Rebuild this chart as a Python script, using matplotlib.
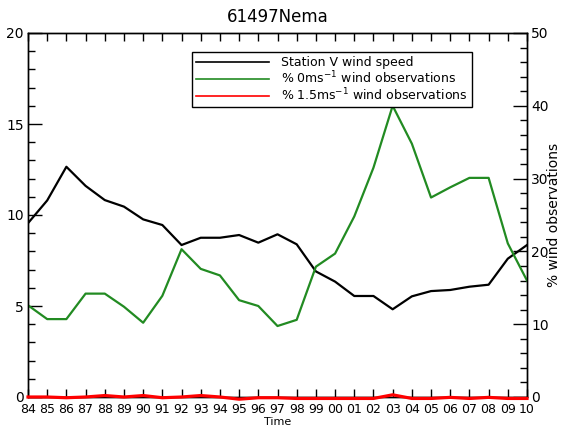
"""Station wind speed and calm-wind observation percentages, 1984-2010."""
import matplotlib
matplotlib.use("Agg")
import matplotlib.pyplot as plt
from matplotlib.ticker import MultipleLocator

years = list(range(1984, 2011))
year_labels = [f"{y % 100:02d}" for y in years]

# station wind speed (left axis)
wind_speed = [9.55, 10.8, 12.65, 11.6, 10.82, 10.46, 9.76, 9.45, 8.35, 8.75, 8.75, 8.9,
              8.48, 8.94, 8.39, 6.9, 6.34, 5.55, 5.55, 4.82, 5.53, 5.82, 5.88, 6.06, 6.17,
              7.6, 8.35]
# % of 0 m/s observations (right axis)
pct_zero = [12.6, 10.7, 10.7, 14.2, 14.2, 12.4, 10.2, 13.9, 20.3, 17.6, 16.7, 13.3, 12.5,
            9.75, 10.6, 17.9, 19.7, 24.8, 31.5, 40.0, 34.8, 27.4, 28.8, 30.1, 30.1, 21.1,
            16.0]
# % of 1.5 m/s observations (right axis)
pct_15 = [0.0, 0.0, -0.1, 0.0, 0.2, 0.0, 0.2, -0.1, 0.0, 0.2, 0.0, -0.3, -0.1, -0.1, -0.2,
          -0.2, -0.2, -0.2, -0.2, 0.3, -0.2, -0.2, -0.05, -0.2, -0.05, -0.2, -0.2]

plt.rcParams["font.family"] = "DejaVu Sans"

fig = plt.figure(figsize=(5.69, 4.34), dpi=100)
ax = fig.add_axes([28 / 569, 1 - 397 / 434, 499 / 569, 364 / 434])
ax2 = ax.twinx()

l1, = ax.plot(years, wind_speed, color="black", linewidth=1.6, label="Station V wind speed")
l2, = ax2.plot(years, pct_zero, color="#228b22", linewidth=1.6,
               label=r"% 0ms$^{-1}$ wind observations")
l3, = ax2.plot(years, pct_15, color="red", linewidth=2.3, clip_on=False, zorder=5,
               label=r"% 1.5ms$^{-1}$ wind observations")

ax.set_xlim(1984, 2010)
ax.set_ylim(0, 20)
ax2.set_ylim(0, 50)

ax.set_xticks(years)
ax.set_xticklabels(year_labels, fontsize=9)
ax.yaxis.set_major_locator(MultipleLocator(5))
ax.yaxis.set_minor_locator(MultipleLocator(1))
ax2.yaxis.set_major_locator(MultipleLocator(10))
ax2.yaxis.set_minor_locator(MultipleLocator(2))

ax.tick_params(axis="x", direction="in", top=True, length=6, width=1, pad=4)
ax.tick_params(axis="y", which="major", direction="in", length=10, width=1, labelsize=10, pad=3)
ax.tick_params(axis="y", which="minor", direction="in", length=5, width=1)
ax2.tick_params(axis="y", which="major", direction="in", length=10, width=1, labelsize=10, pad=3)
ax2.tick_params(axis="y", which="minor", direction="in", length=5, width=1)

for a in (ax, ax2):
    for s in a.spines.values():
        s.set_linewidth(1)

ax.set_xlabel("Time", fontsize=8, labelpad=1)
ax2.set_ylabel("% wind observations", fontsize=10, labelpad=-1)
ax.set_title("61497Nema", fontsize=12, pad=8)

leg = fig.legend(handles=[l1, l2, l3], loc="upper left",
                 bbox_to_anchor=(192 / 569, 1 - 52 / 434), fontsize=9,
                 frameon=True, fancybox=False, edgecolor="black", framealpha=1,
                 handlelength=5.8, handletextpad=1.0, labelspacing=0.02,
                 borderpad=0.35, borderaxespad=0)
leg.get_frame().set_linewidth(1)
for h in leg.legend_handles:
    h.set_linewidth(1.2)

fig.savefig("out.png", dpi=100)
